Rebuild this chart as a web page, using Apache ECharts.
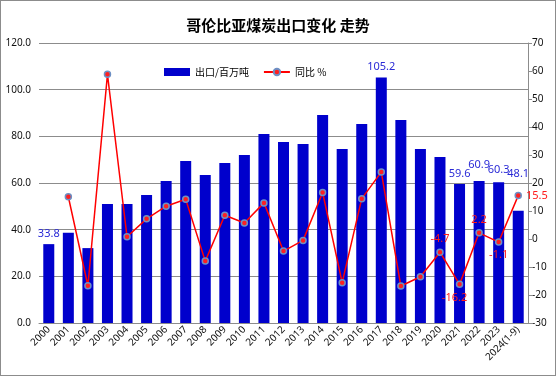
<!DOCTYPE html>
<html>
<head>
<meta charset="utf-8">
<script src="https://cdn.jsdelivr.net/npm/echarts@6/dist/echarts.min.js"></script>
<style>
  html, body { margin: 0; padding: 0; background: #fff; }
  #myChart { width: 556px; height: 376px; box-sizing: border-box; border: 1px solid #8c8c8c; }
</style>
</head>
<body>
<div id="myChart"></div>
<script>
  // 年份
  const years = ['2000', '2001', '2002', '2003', '2004', '2005', '2006', '2007', '2008', '2009',
    '2010', '2011', '2012', '2013', '2014', '2015', '2016', '2017', '2018', '2019',
    '2020', '2021', '2022', '2023', '2024(1-9)'];
  // 出口/百万吨
  const exportVals = [33.8, 38.7, 32.1, 51.0, 51.0, 54.9, 60.9, 69.4, 63.4, 68.6,
    72.0, 81.0, 77.6, 76.7, 89.1, 74.6, 85.3, 105.2, 87.0, 74.6,
    71.1, 59.6, 60.9, 60.3, 48.1];
  // 同比 %
  const yoyVals = [null, 15.1, -16.7, 58.8, 0.8, 7.2, 11.7, 14.2, -7.9, 8.5,
    5.7, 12.9, -4.3, -0.5, 16.6, -15.6, 14.4, 23.9, -16.8, -13.5,
    -4.7, -16.2, 2.2, -1.1, 15.5];
  const leftTicks = [0, 120, 20];
  const rightTicks = [-30, 70, 10];

  // 只显示部分标签
  const barLabelIdx = {0: [0, 0], 17: [0, 0], 21: [0, 0], 22: [0, -6], 23: [0, -2], 24: [0, -26]};
  const lineLabelIdx = {20: 'top', 21: ['bottom', -5], 22: 'top', 23: 'bottom', 24: 'right'};

  const dom = document.getElementById('myChart');
  const myChart = echarts.init(dom);

  const barData = exportVals.map((v, i) => {
    const item = {value: v};
    if (barLabelIdx[i]) {
      item.label = {show: true, position: 'top', offset: barLabelIdx[i], color: '#2a2ad6', fontSize: 11, formatter: p => p.value.toFixed(1)};
    }
    return item;
  });
  const lineData = yoyVals.map((v, i) => {
    const item = {value: v};
    const l = lineLabelIdx[i];
    if (l) {
      const pos = Array.isArray(l) ? l[0] : l;
      const dx = Array.isArray(l) ? l[1] : 0;
      item.label = {show: true, position: pos, offset: [dx, 0], distance: 4, color: '#ff1a1a', fontSize: 11, formatter: p => p.value.toFixed(1)};
    }
    return item;
  });

  const option = {
    animation: false,
    textStyle: {fontFamily: 'Noto Sans, Noto Sans CJK SC'},
    title: {
      text: '哥伦比亚煤炭出口变化 走势',
      left: 'center',
      top: 12,
      textStyle: {fontFamily: 'Noto Sans CJK SC', fontSize: 15, fontWeight: 'bold', color: '#000'}
    },
    legend: {
      top: 61,
      left: 158,
      itemGap: 14,
      textStyle: {fontSize: 10, color: '#000', fontFamily: 'Noto Sans CJK SC'},
      data: [
        {name: '出口/百万吨', icon: 'rect', itemStyle: {color: '#0000cc'}},
        {name: '同比 %'}
      ],
      itemWidth: 26,
      itemHeight: 8
    },
    grid: {left: 38, right: 27, top: 42, bottom: 52, containLabel: false},
    xAxis: [{
      type: 'category',
      data: years,
      axisLine: {lineStyle: {color: '#8c8c8c'}},
      axisTick: {show: false},
      axisLabel: {rotate: 45, fontSize: 10, color: '#111', interval: 0, margin: 5}
    }],
    yAxis: [
      {
        type: 'value',
        min: leftTicks[0], max: leftTicks[1], interval: leftTicks[2],
        axisLine: {show: false},
        axisTick: {show: false},
        splitLine: {lineStyle: {color: '#8c8c8c', width: 1}},
        axisLabel: {fontSize: 10, color: '#111', formatter: v => v.toFixed(1), margin: 8}
      },
      {
        type: 'value',
        min: rightTicks[0], max: rightTicks[1], interval: rightTicks[2],
        axisLine: {show: true, lineStyle: {color: '#8c8c8c'}},
        axisTick: {show: true, length: 4, lineStyle: {color: '#8c8c8c'}},
        splitLine: {show: false},
        axisLabel: {fontSize: 10, color: '#111', margin: 4}
      }
    ],
    series: [
      {
        name: '出口/百万吨',
        type: 'bar',
        barWidth: 11,
        itemStyle: {color: '#0000cc'},
        data: barData
      },
      {
        name: '同比 %',
        type: 'line',
        yAxisIndex: 1,
        symbol: 'circle',
        symbolSize: 6,
        lineStyle: {color: '#ff0000', width: 1.5},
        itemStyle: {color: '#ff2020', borderColor: '#6d8fc4', borderWidth: 1.5},
        data: lineData
      }
    ]
  };
  myChart.setOption(option);
</script>
</body>
</html>
